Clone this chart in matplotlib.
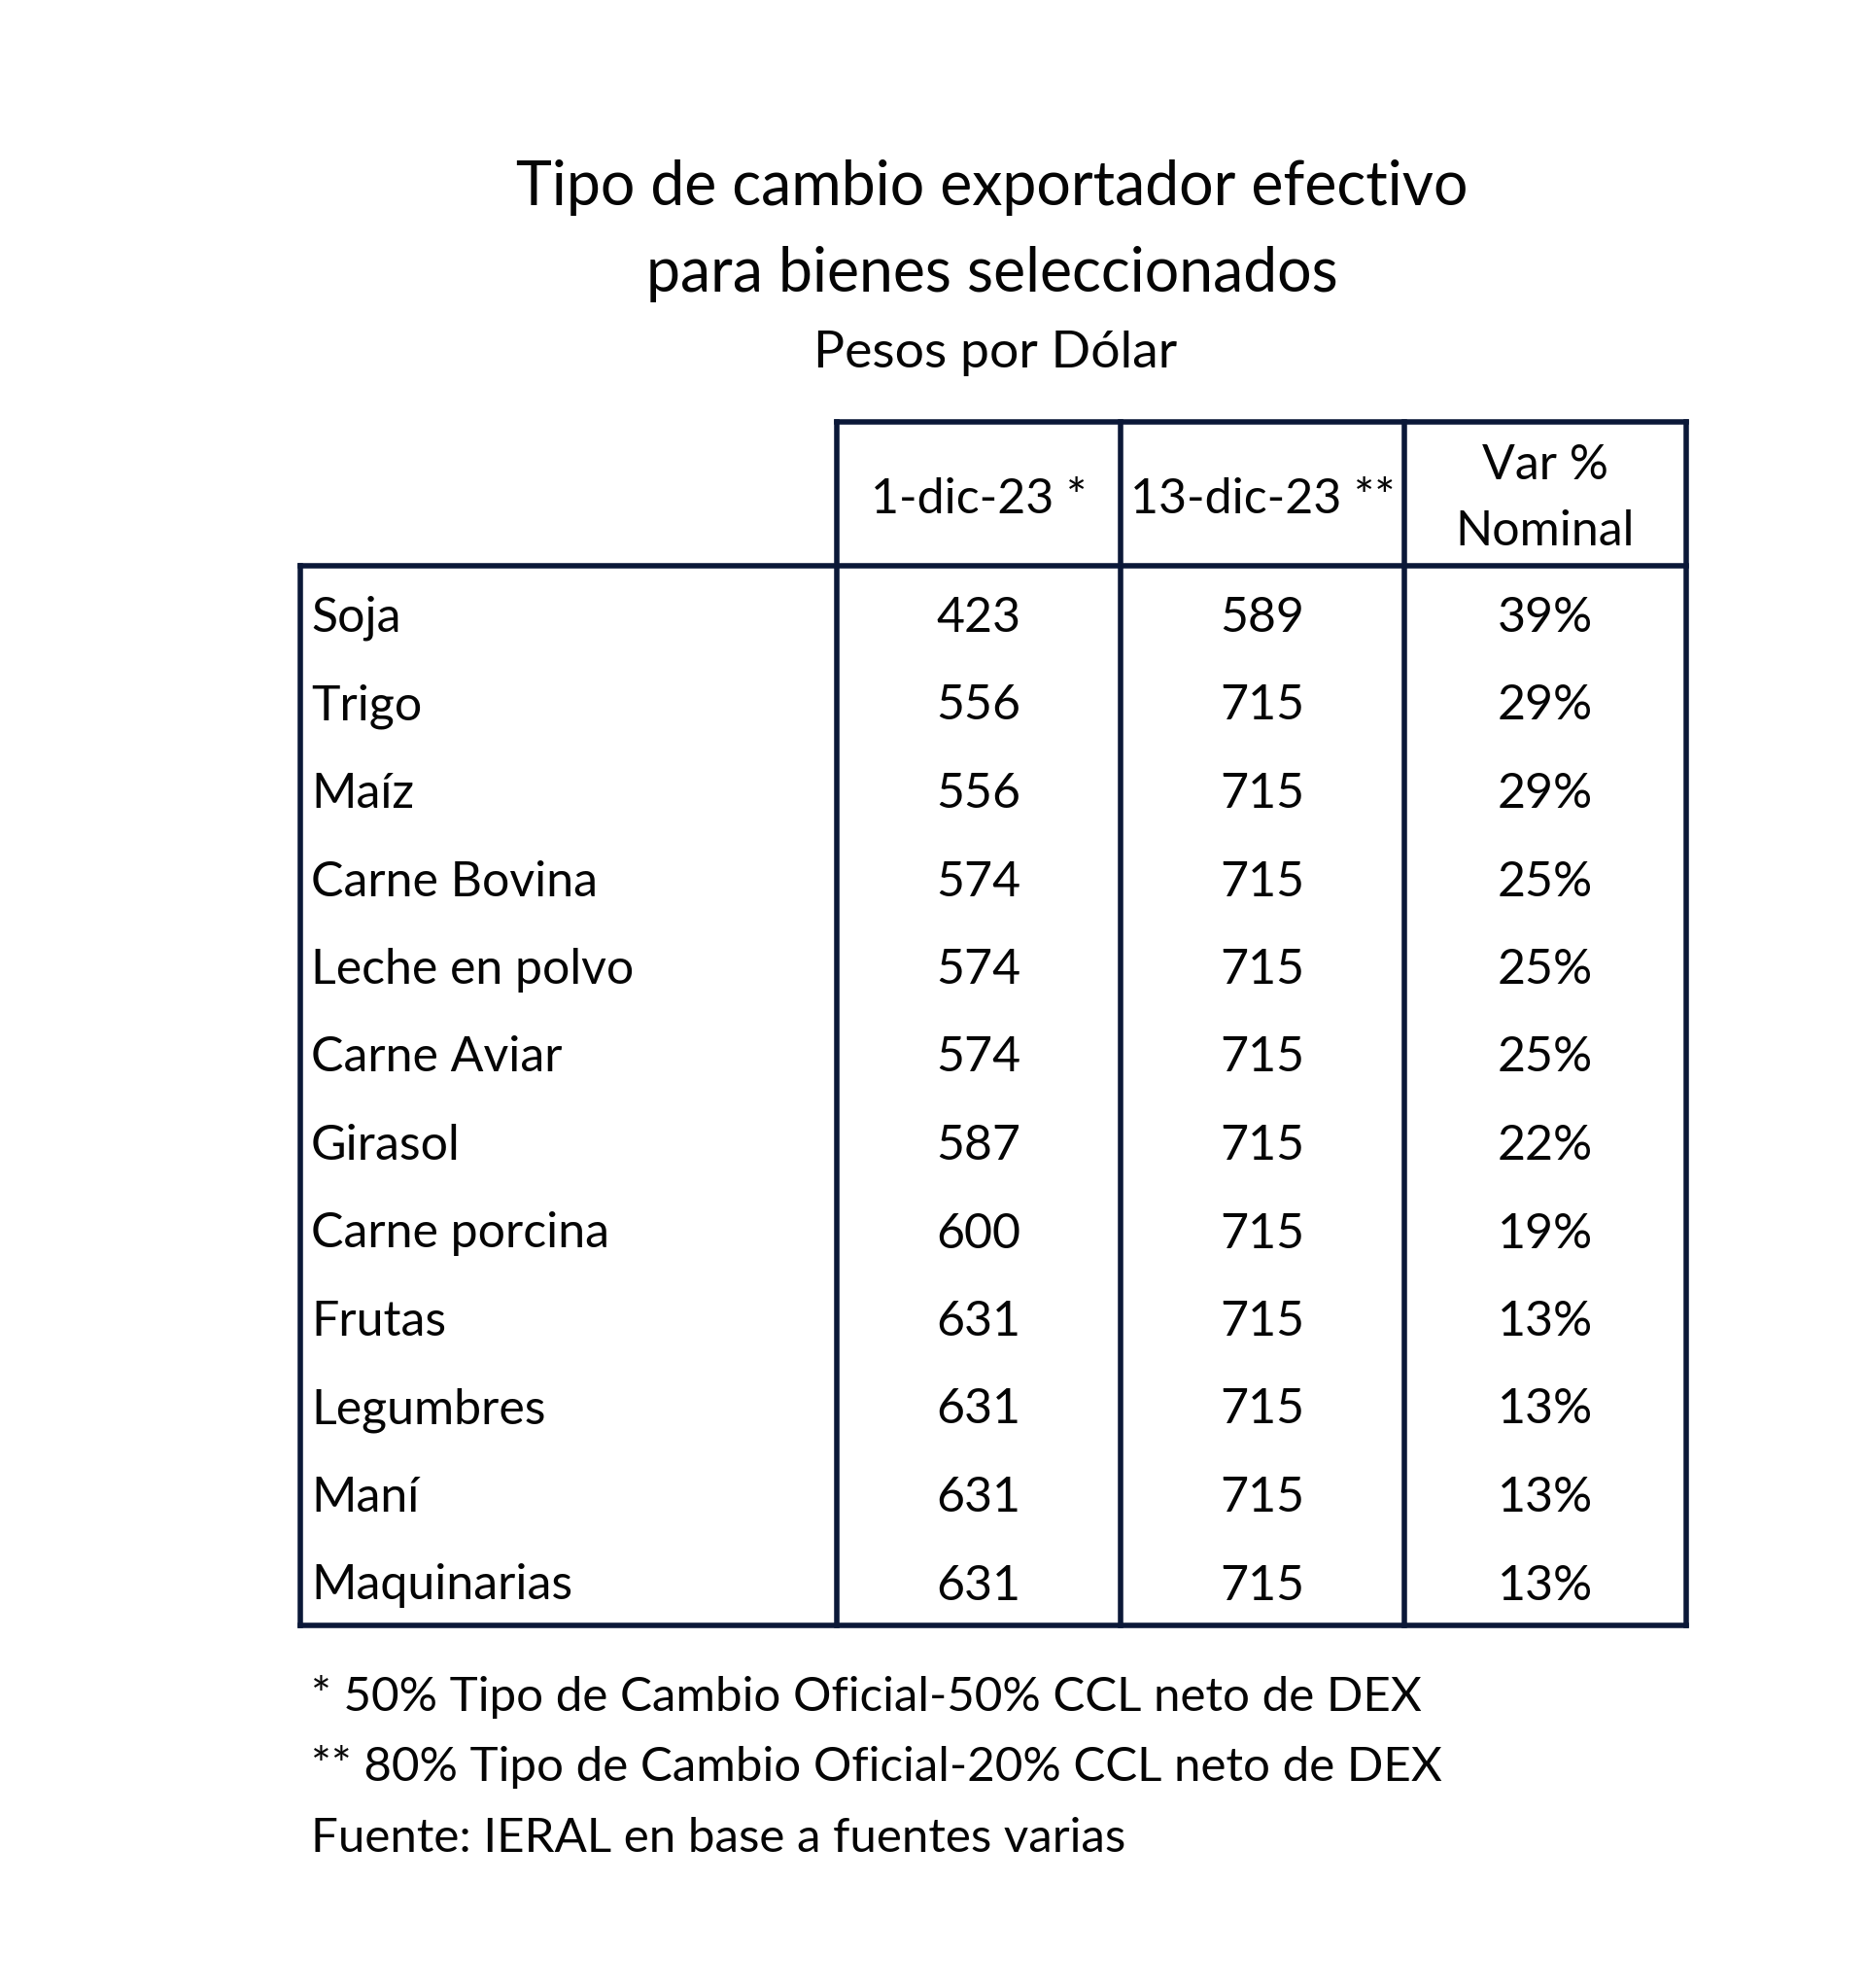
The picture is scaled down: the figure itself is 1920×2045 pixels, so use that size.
import matplotlib
matplotlib.use("Agg")
import matplotlib.pyplot as plt

# ---- data ----
products = ["Soja", "Trigo", "Maíz", "Carne Bovina", "Leche en polvo", "Carne Aviar",
            "Girasol", "Carne porcina", "Frutas", "Legumbres", "Maní", "Maquinarias"]
rate_dec1 = [423, 556, 556, 574, 574, 574, 587, 600, 631, 631, 631, 631]
rate_dec13 = [589, 715, 715, 715, 715, 715, 715, 715, 715, 715, 715, 715]
var_nominal = ["39%", "29%", "29%", "25%", "25%", "25%", "22%", "19%", "13%", "13%", "13%", "13%"]
col_headers = ["1-dic-23 *", "13-dic-23 **", "Var %\nNominal"]
title_lines = ["Tipo de cambio exportador efectivo", "para bienes seleccionados"]
subtitle = "Pesos por Dólar"
footnotes = ["* 50% Tipo de Cambio Oficial-50% CCL neto de DEX",
             "** 80% Tipo de Cambio Oficial-20% CCL neto de DEX",
             "Fuente: IERAL en base a fuentes varias"]

# ---- layout (pixels) ----
W, H = 1920, 2045
FONT = "Lato"
LINE = "#0b1838"
TXT = "#050505"

fig = plt.figure(figsize=(W / 100, H / 100), dpi=100)
ax = fig.add_axes([0, 0, 1, 1])
ax.set_xlim(0, W)
ax.set_ylim(H, 0)
ax.axis("off")

left, right = 309, 1735
cols = [left, 861, 1153, 1445, right]
head_top, body_top, bottom = 434, 582, 1672
row0, row_step = 636, 90.5
lw = 4.0
BODY = 36

# title
ax.text(1021, 193, title_lines[0], ha="center", va="center", fontsize=45, family=FONT, color=TXT)
ax.text(1021, 282, title_lines[1], ha="center", va="center", fontsize=45, family=FONT, color=TXT)
ax.text(1024, 363, subtitle, ha="center", va="center", fontsize=38.5, family=FONT, color=TXT)

# grid lines
ax.plot([cols[1], right], [head_top, head_top], color=LINE, lw=lw, solid_capstyle="projecting")
ax.plot([left, right], [body_top, body_top], color=LINE, lw=lw, solid_capstyle="projecting")
ax.plot([left, right], [bottom, bottom], color=LINE, lw=lw, solid_capstyle="projecting")
ax.plot([left, left], [body_top, bottom], color=LINE, lw=lw, solid_capstyle="projecting")
for x in cols[1:]:
    ax.plot([x, x], [head_top, bottom], color=LINE, lw=lw, solid_capstyle="projecting")

# headers
centers = [(cols[i] + cols[i + 1]) / 2 for i in range(1, 4)]
ax.text(centers[0], 514, col_headers[0], ha="center", va="center", fontsize=BODY, family=FONT, color=TXT)
ax.text(centers[1], 514, col_headers[1], ha="center", va="center", fontsize=BODY, family=FONT, color=TXT)
ax.text(centers[2], 513, col_headers[2], ha="center", va="center", fontsize=BODY, family=FONT,
        color=TXT, linespacing=1.6)

# body
for i, name in enumerate(products):
    y = row0 + i * row_step
    ax.text(320, y, name, ha="left", va="center", fontsize=BODY, family=FONT, color=TXT)
    ax.text(centers[0], y, str(rate_dec1[i]), ha="center", va="center", fontsize=BODY, family=FONT, color=TXT)
    ax.text(centers[1], y, str(rate_dec13[i]), ha="center", va="center", fontsize=BODY, family=FONT, color=TXT)
    ax.text(centers[2], y, var_nominal[i], ha="center", va="center", fontsize=BODY, family=FONT, color=TXT)

# footnotes
for j, t in enumerate(footnotes):
    ax.text(320, 1745 + j * 73, t, ha="left", va="center", fontsize=35.5, family=FONT, color=TXT)

fig.savefig("out.png", dpi=100, facecolor="white")
